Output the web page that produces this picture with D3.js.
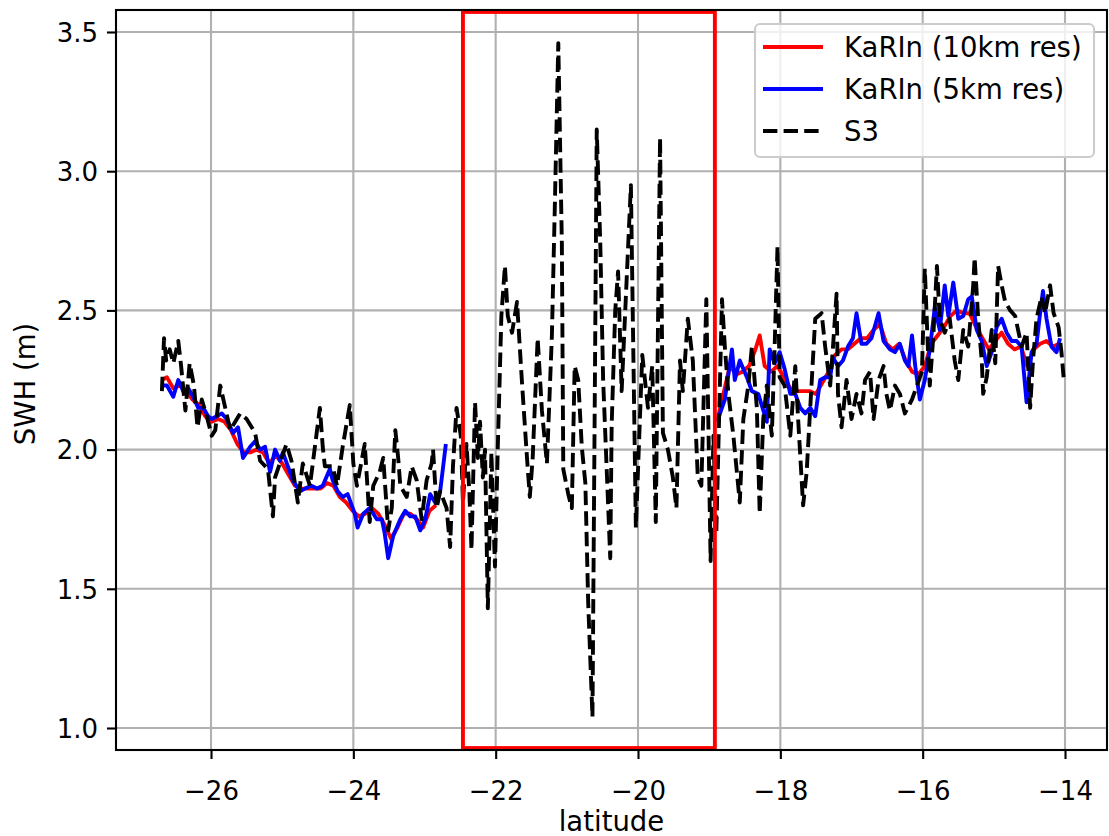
<!DOCTYPE html>
<html>
<head>
<meta charset="utf-8">
<script src="https://cdn.jsdelivr.net/npm/d3@7"></script>
<style>
  body { margin: 0; background: #fff; }
  svg { display: block; }
  text { font-family: "DejaVu Sans", sans-serif; fill: #000; }
</style>
</head>
<body>
<svg id="chart" width="1109" height="836"></svg>
<script>
// ---- data ---------------------------------------------------------------
// Sentinel-3 along-track SWH
const s3Lat = [
  -26.69,-26.66,-26.63,-26.58,-26.53,-26.46,-26.42,-26.36,-26.30,-26.24,-26.19,-26.13,-26.06,
  -25.99,-25.94,-25.87,-25.80,-25.73,-25.59,-25.50,-25.38,-25.31,-25.20,-25.13,-25.10,
  -24.94,-24.87,-24.78,-24.71,-24.61,-24.51,-24.47,-24.43,-24.40,-24.29,-24.23,-24.15,-24.05,
  -24.00,-23.95,-23.84,-23.77,-23.72,-23.63,-23.58,-23.51,-23.46,-23.41,-23.37,-23.34,-23.25,
  -23.18,-23.11,-23.04,-22.97,-22.90,-22.88,-22.83,-22.78,-22.69,-22.64,-22.60,-22.55,-22.49,
  -22.46,-22.41,-22.37,-22.34,-22.29,-22.25,-22.22,-22.18,-22.15,-22.11,-22.06,-22.01,-21.97,
  -21.92,-21.87,-21.83,-21.77,-21.70,-21.63,-21.56,-21.52,-21.48,-21.41,-21.35,-21.28,-21.21,
  -21.17,-21.12,-21.07,-21.05,-20.98,-20.93,-20.89,-20.84,-20.79,-20.74,-20.70,-20.64,-20.58,
  -20.53,-20.49,-20.44,-20.39,-20.37,-20.32,-20.28,-20.23,-20.10,-20.03,-19.94,-19.86,-19.80,
  -19.75,-19.69,-19.65,-19.58,-19.51,-19.46,-19.41,-19.37,-19.30,-19.23,-19.16,-19.11,-19.04,
  -18.98,-18.94,-18.90,-18.82,-18.78,-18.73,-18.66,-18.57,-18.52,-18.45,-18.40,-18.33,-18.29,
  -18.24,-18.19,-18.12,-18.08,-18.04,-18.01,-17.94,-17.86,-17.79,-17.75,-17.68,-17.63,-17.58,
  -17.51,-17.42,-17.37,-17.30,-17.26,-17.21,-17.19,-17.14,-17.07,-17.00,-16.93,-16.86,-16.81,
  -16.74,-16.69,-16.62,-16.55,-16.51,-16.46,-16.39,-16.32,-16.25,-16.15,-16.08,-16.01,-15.99,
  -15.97,-15.92,-15.90,-15.85,-15.80,-15.76,-15.69,-15.62,-15.55,-15.50,-15.43,-15.36,-15.29,
  -15.27,-15.22,-15.17,-15.15,-15.10,-15.03,-14.98,-14.94,-14.89,-14.84,-14.77,-14.70,-14.66,
  -14.61,-14.54,-14.49,-14.45,-14.40,-14.33,-14.28,-14.21,-14.16,-14.09,-14.05,-14.02
];
const s3Swh = [
  2.21,2.40,2.32,2.36,2.31,2.39,2.30,2.14,2.31,2.23,2.08,2.18,2.12,
  2.05,2.07,2.23,2.15,2.07,2.13,2.11,2.06,1.96,1.93,1.76,1.90,
  2.02,1.96,1.81,1.95,1.87,2.07,2.15,2.01,1.94,1.94,1.87,2.01,2.16,
  1.95,1.87,2.02,1.74,1.87,1.92,1.97,1.71,1.79,2.07,1.97,1.87,1.83,
  1.94,1.89,1.75,1.89,1.95,2.00,1.79,1.85,1.79,1.65,1.94,2.15,2.05,
  1.81,2.02,1.85,1.64,2.17,1.97,2.10,1.90,2.00,1.43,1.99,1.58,2.01,
  2.48,2.66,2.48,2.42,2.53,2.24,1.97,1.83,1.97,2.40,2.14,1.95,2.41,
  2.86,3.46,2.74,1.93,1.84,1.79,2.30,2.25,2.01,1.88,1.45,1.04,3.15,
  2.74,2.25,1.93,1.61,2.09,2.50,2.64,2.21,2.95,1.72,2.34,2.15,2.30,
  1.74,3.12,2.06,2.00,1.90,1.79,2.32,2.21,2.47,2.32,1.90,1.87,2.54,
  1.60,2.05,1.70,2.54,2.37,2.20,2.05,1.81,2.11,2.23,2.37,2.15,1.77,
  2.11,2.23,2.05,2.37,2.73,2.26,2.23,2.05,2.30,2.11,1.80,1.92,2.15,
  2.47,2.49,2.37,2.23,2.37,2.56,2.20,2.08,2.25,2.11,2.20,2.13,2.25,
  2.28,2.11,2.25,2.30,2.20,2.14,2.23,2.20,2.13,2.18,2.23,2.28,2.47,
  2.65,2.32,2.23,2.41,2.66,2.47,2.42,2.47,2.32,2.25,2.43,2.37,2.59,
  2.69,2.47,2.32,2.20,2.26,2.43,2.31,2.66,2.59,2.53,2.50,2.48,2.43,
  2.37,2.42,2.15,2.32,2.47,2.55,2.49,2.59,2.49,2.44,2.35,2.26
];

// KaRIn, 10 km posting (null marks the swath gap)
const karin10Lat = [
  -26.69,-26.62,-26.53,-26.44,-26.35,-26.26,-26.17,-26.08,-25.99,-25.90,-25.81,-25.72,-25.63,
  -25.54,-25.45,-25.36,-25.27,-25.18,-25.09,-25.00,-24.91,-24.82,-24.73,-24.64,-24.55,-24.46,
  -24.37,-24.28,-24.19,-24.10,-24.01,-23.92,-23.83,-23.74,-23.65,-23.56,-23.47,-23.38,-23.29,
  -23.20,-23.11,-23.02,-22.93,-22.84,
  -20.80,
  -18.89,-18.80,-18.71,-18.62,-18.53,-18.44,-18.35,-18.29,-18.22,-18.13,-18.04,-17.95,-17.86,
  -17.77,-17.68,-17.59,-17.50,-17.41,-17.32,-17.23,-17.14,-17.05,-16.96,-16.87,-16.78,-16.69,
  -16.60,-16.51,-16.42,-16.33,-16.24,-16.15,-16.06,-15.97,-15.88,-15.79,-15.70,-15.61,-15.52,
  -15.43,-15.34,-15.25,-15.16,-15.07,-14.98,-14.89,-14.80,-14.71,-14.62,-14.53,-14.44,-14.35,
  -14.26,-14.17,-14.08
];
const karin10Swh = [
  2.25,2.26,2.22,2.23,2.21,2.18,2.16,2.12,2.10,2.11,2.10,2.07,2.02,
  1.99,1.99,2.00,1.99,1.95,1.98,1.95,1.91,1.87,1.86,1.86,1.86,1.86,
  1.88,1.87,1.83,1.81,1.78,1.76,1.77,1.79,1.77,1.73,1.68,1.72,1.77,
  1.77,1.75,1.72,1.78,1.80,
  null,
  2.10,2.20,2.30,2.27,2.28,2.30,2.36,2.41,2.30,2.28,2.30,2.26,2.22,
  2.21,2.21,2.21,2.20,2.24,2.28,2.34,2.36,2.36,2.38,2.40,2.40,2.43,
  2.45,2.38,2.36,2.38,2.32,2.28,2.27,2.30,2.38,2.41,2.44,2.48,2.50,
  2.49,2.49,2.44,2.40,2.36,2.39,2.42,2.38,2.36,2.37,2.30,2.36,2.38,
  2.39,2.37,2.38
];

// KaRIn, 5 km posting (null marks the swath gap)
const karin5Lat = [
  -26.69,-26.62,-26.53,-26.46,-26.39,-26.32,-26.25,-26.18,-26.11,-26.04,-25.99,-25.92,-25.85,
  -25.78,-25.69,-25.62,-25.55,-25.45,-25.38,-25.31,-25.24,-25.17,-25.10,-25.03,-24.99,-24.92,
  -24.85,-24.75,-24.68,-24.59,-24.51,-24.43,-24.33,-24.29,-24.22,-24.15,-24.08,-23.98,-23.94,
  -23.86,-23.77,-23.67,-23.60,-23.56,-23.51,-23.44,-23.34,-23.27,-23.20,-23.13,-23.06,-22.99,
  -22.92,-22.85,-22.78,-22.70,
  -20.80,
  -18.89,-18.78,-18.68,-18.64,-18.57,-18.47,-18.40,-18.31,-18.19,-18.15,-18.08,-18.01,-17.94,
  -17.86,-17.79,-17.72,-17.65,-17.58,-17.51,-17.44,-17.37,-17.30,-17.26,-17.19,-17.12,-17.05,
  -16.98,-16.93,-16.86,-16.79,-16.72,-16.62,-16.55,-16.46,-16.39,-16.32,-16.25,-16.20,-16.15,
  -16.10,-16.04,-15.97,-15.90,-15.83,-15.76,-15.69,-15.64,-15.57,-15.50,-15.43,-15.36,-15.31,
  -15.24,-15.17,-15.10,-15.03,-14.96,-14.89,-14.82,-14.75,-14.68,-14.61,-14.54,-14.47,-14.40,
  -14.35,-14.31,-14.26,-14.19,-14.12,-14.07
];
const karin5Swh = [
  2.23,2.23,2.19,2.25,2.21,2.22,2.19,2.15,2.15,2.12,2.11,2.12,2.13,
  2.11,2.06,2.08,1.97,2.01,2.03,2.00,2.01,1.92,2.00,1.96,1.99,1.94,
  1.89,1.85,1.86,1.87,1.86,1.87,1.93,1.89,1.85,1.83,1.84,1.77,1.72,
  1.77,1.79,1.75,1.75,1.70,1.61,1.69,1.75,1.78,1.76,1.76,1.71,1.75,
  1.84,1.81,1.85,2.02,
  null,
  2.10,2.18,2.36,2.25,2.32,2.26,2.21,2.20,2.10,2.36,2.31,2.35,2.29,
  2.20,2.20,2.15,2.13,2.15,2.12,2.25,2.26,2.26,2.33,2.30,2.32,2.37,
  2.40,2.49,2.38,2.38,2.40,2.49,2.39,2.36,2.35,2.38,2.32,2.30,2.41,
  2.29,2.18,2.25,2.36,2.51,2.43,2.59,2.48,2.60,2.47,2.48,2.54,2.55,
  2.43,2.39,2.30,2.35,2.44,2.47,2.42,2.39,2.39,2.37,2.17,2.35,2.38,
  2.49,2.57,2.47,2.37,2.35,2.40
];

// highlighted latitude band and its SWH extent
const boxLat = [-22.46, -18.92];
const boxSwh = [0.928, 3.572];

const xTicks = [-26, -24, -22, -20, -18, -16, -14];
const yTicks = [1.0, 1.5, 2.0, 2.5, 3.0, 3.5];

const seriesNames = ["KaRIn (10km res)", "KaRIn (5km res)", "S3"];

// ---- layout -------------------------------------------------------------
const plot = { left: 116, top: 10, right: 1107, bottom: 750 };
const tickFs = 26;      // tick labels
const labelFs = 27.5;   // axis titles and legend
const lw = 3.9;         // 1.5 pt lines
const thin = 2.1;       // 0.8 pt spines / ticks / grid

const svg = d3.select("#chart");

const x = d3.scaleLinear().domain([-27.335, -13.41]).range([plot.left, plot.right]);
const y = d3.scaleLinear().domain([0.921, 3.579]).range([plot.bottom, plot.top]);

svg.append("defs").append("clipPath").attr("id", "plotClip")
  .append("rect")
  .attr("x", plot.left).attr("y", plot.top)
  .attr("width", plot.right - plot.left).attr("height", plot.bottom - plot.top);

// grid
const grid = svg.append("g").attr("stroke", "#b0b0b0").attr("stroke-width", thin);
grid.selectAll("line.gx").data(xTicks).join("line")
  .attr("x1", d => x(d)).attr("x2", d => x(d))
  .attr("y1", plot.top).attr("y2", plot.bottom);
grid.selectAll("line.gy").data(yTicks).join("line")
  .attr("x1", plot.left).attr("x2", plot.right)
  .attr("y1", d => y(d)).attr("y2", d => y(d));

// series
const zipped = (lat, v) => lat.map((d, i) => [d, v[i]]);
const line = d3.line()
  .defined(d => d[1] !== null)
  .x(d => x(d[0])).y(d => y(d[1]));

const marks = svg.append("g").attr("clip-path", "url(#plotClip)");
marks.append("path").datum(zipped(karin10Lat, karin10Swh))
  .attr("d", line).attr("fill", "none").attr("stroke", "#ff0000")
  .attr("stroke-width", lw).attr("stroke-linejoin", "round").attr("stroke-linecap", "butt");
marks.append("path").datum(zipped(karin5Lat, karin5Swh))
  .attr("d", line).attr("fill", "none").attr("stroke", "#0000ff")
  .attr("stroke-width", lw).attr("stroke-linejoin", "round").attr("stroke-linecap", "butt");
marks.append("path").datum(zipped(s3Lat, s3Swh))
  .attr("d", line).attr("fill", "none").attr("stroke", "#000")
  .attr("stroke-width", lw).attr("stroke-dasharray", "14.4,6.2")
  .attr("stroke-linejoin", "round").attr("stroke-linecap", "butt");

// highlighted band
marks.append("rect")
  .attr("x", x(boxLat[0])).attr("y", y(boxSwh[1]))
  .attr("width", x(boxLat[1]) - x(boxLat[0]))
  .attr("height", y(boxSwh[0]) - y(boxSwh[1]))
  .attr("fill", "none").attr("stroke", "#ff0000").attr("stroke-width", lw);

// axes
const xAxis = svg.append("g")
  .attr("transform", `translate(0,${plot.bottom})`)
  .call(d3.axisBottom(x).tickValues(xTicks).tickSize(9).tickPadding(9));
const yAxis = svg.append("g")
  .attr("transform", `translate(${plot.left},0)`)
  .call(d3.axisLeft(y).tickValues(yTicks).tickFormat(d3.format(".1f")).tickSize(9).tickPadding(9));

[xAxis, yAxis].forEach(g => {
  g.select(".domain").remove();
  g.selectAll(".tick line").attr("stroke", "#000").attr("stroke-width", thin);
  g.selectAll(".tick text").attr("font-size", tickFs).attr("font-family", "DejaVu Sans").attr("fill", "#000");
});
xAxis.selectAll(".tick text").attr("dy", null).attr("y", 50);
yAxis.selectAll(".tick text").attr("dy", "0.36em");

// frame
svg.append("rect")
  .attr("x", plot.left).attr("y", plot.top)
  .attr("width", plot.right - plot.left).attr("height", plot.bottom - plot.top)
  .attr("fill", "none").attr("stroke", "#000").attr("stroke-width", thin);

// axis titles
svg.append("text")
  .attr("x", (plot.left + plot.right) / 2).attr("y", 831)
  .attr("text-anchor", "middle").attr("font-size", labelFs)
  .text("latitude");
svg.append("text")
  .attr("transform", `translate(35,${(plot.top + plot.bottom) / 2 + 4}) rotate(-90)`)
  .attr("text-anchor", "middle").attr("font-size", labelFs)
  .text("SWH (m)");

// legend
const legend = svg.append("g");
legend.append("rect")
  .attr("x", 755).attr("y", 24).attr("width", 339).attr("height", 133)
  .attr("rx", 5).attr("ry", 5)
  .attr("fill", "#fff").attr("fill-opacity", 0.8)
  .attr("stroke", "#cccccc").attr("stroke-width", thin);

const legendStyles = [
  { color: "#ff0000", dash: null },
  { color: "#0000ff", dash: null },
  { color: "#000", dash: "14.4,6.2" }
];
const rowY = [47, 89, 131];
seriesNames.forEach((name, i) => {
  legend.append("line")
    .attr("x1", 763).attr("x2", 823)
    .attr("y1", rowY[i]).attr("y2", rowY[i])
    .attr("stroke", legendStyles[i].color).attr("stroke-width", lw)
    .attr("stroke-dasharray", legendStyles[i].dash);
  legend.append("text")
    .attr("x", 844).attr("y", rowY[i] + 10)
    .attr("font-size", labelFs)
    .text(name);
});
</script>
</body>
</html>
